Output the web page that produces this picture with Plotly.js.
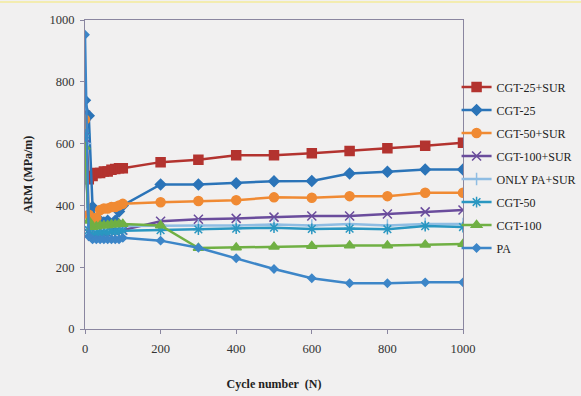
<!DOCTYPE html>
<html><head><meta charset="utf-8">
<script src="https://cdn.plot.ly/plotly-3.0.1.min.js"></script>
<style>html,body{margin:0;padding:0;background:#f1f0f0;}</style>
</head><body><div id="chart" style="width:581px;height:396px;"></div>
<script>
const cycles = [0,10,20,30,40,50,60,70,80,90,100,200,300,400,500,600,700,800,900,1000];
const seriesNames = ["CGT-25+SUR","CGT-25","CGT-50+SUR","CGT-100+SUR","ONLY PA+SUR","CGT-50","CGT-100","PA"];
const cgt25sur  = [690,485,495,505,505,510,510,515,518,520,520,540,548,562,562,569,576,585,593,603];
const cgt25     = [740,690,395,340,350,345,350,330,350,380,400,468,468,472,478,479,503,509,516,516];
const cgt50sur  = [678,370,340,360,385,390,390,395,395,400,405,410,414,417,426,425,430,430,441,441];
const cgt100sur = [620,310,300,305,310,310,310,315,315,318,320,349,355,358,362,366,366,372,379,385];
const onlyPaSur = [600,330,320,325,325,330,330,330,332,332,333,335,335,335,338,335,340,335,340,340];
const cgt50     = [630,320,305,310,310,312,312,315,315,316,318,320,322,325,328,324,325,323,333,330];
const cgt100    = [590,350,330,332,335,335,336,338,338,340,340,335,262,264,266,269,270,270,273,275];
const pa        = [952,300,290,290,290,290,290,290,290,290,295,286,263,229,194,164,148,148,151,151];

const values = [cgt25sur,cgt25,cgt50sur,cgt100sur,onlyPaSur,cgt50,cgt100,pa];
const colors = ["#b3332f","#2b74b8","#f08a33","#6a4c9c","#8fbde3","#2a97c1","#70b044","#3d86c8"];
const symbols = ["square","diamond","circle","x-thin-open","cross-thin-open","asterisk-open","triangle-up","diamond"];
const sizes = [9,8,9,9,9,9,9,6];

const traces = seriesNames.map((n,i)=>({
  x: cycles, y: values[i], name: n, legendgroup: "g"+i, type:"scatter", mode:"lines+markers",
  line:{color:colors[i], width:2.5},
  marker:{symbol:symbols[i], size:sizes[i], color:colors[i], line:{color:colors[i], width:1.5}}
}));

const layout = {
  width:581, height:396,
  paper_bgcolor:"#f1f0f0", plot_bgcolor:"#f1f0f0",
  margin:{l:85, r:118, t:20, b:67, autoexpand:false},
  font:{family:"Liberation Serif, Times New Roman, serif", size:12, color:"#333"},
  xaxis:{range:[0,1000], tickvals:[0,200,400,600,800,1000], ticks:"outside", ticklen:4,
    tickcolor:"#8a86a0", showline:true, linecolor:"#8a86a0", linewidth:1, mirror:true,
    showgrid:false, zeroline:false, tickfont:{size:12.5, color:"#333"}, automargin:false,
    ticklabelstandoff:4,
    title:{text:"<b>Cycle number  (N)</b>", font:{size:12, color:"#222"}, standoff:24}},
  yaxis:{range:[0,1000], tickvals:[0,200,400,600,800,1000], ticks:"outside", ticklen:4,
    tickcolor:"#8a86a0", showline:true, linecolor:"#8a86a0", linewidth:1, mirror:true,
    showgrid:false, zeroline:false, tickfont:{size:12.5, color:"#333"}, automargin:false,
    ticklabelstandoff:3,
    title:{text:"<b>ARM (MPa/m)</b>", font:{size:12, color:"#222"}, standoff:14}},
  legend:{x:0.983, y:0.83, xanchor:"left", yanchor:"top", bgcolor:"rgba(0,0,0,0)",
    font:{size:12, color:"#222"}, tracegroupgap:4, itemwidth:30, traceorder:"grouped"},
  shapes:[{type:"line", xref:"paper", yref:"paper", x0:-0.3, x1:1.32, y0:1.058, y1:1.058,
    line:{color:"#f3ecb0", width:2}}],
  showlegend:true
};
Plotly.newPlot("chart", traces, layout, {displayModeBar:false, staticPlot:true});
</script></body></html>
